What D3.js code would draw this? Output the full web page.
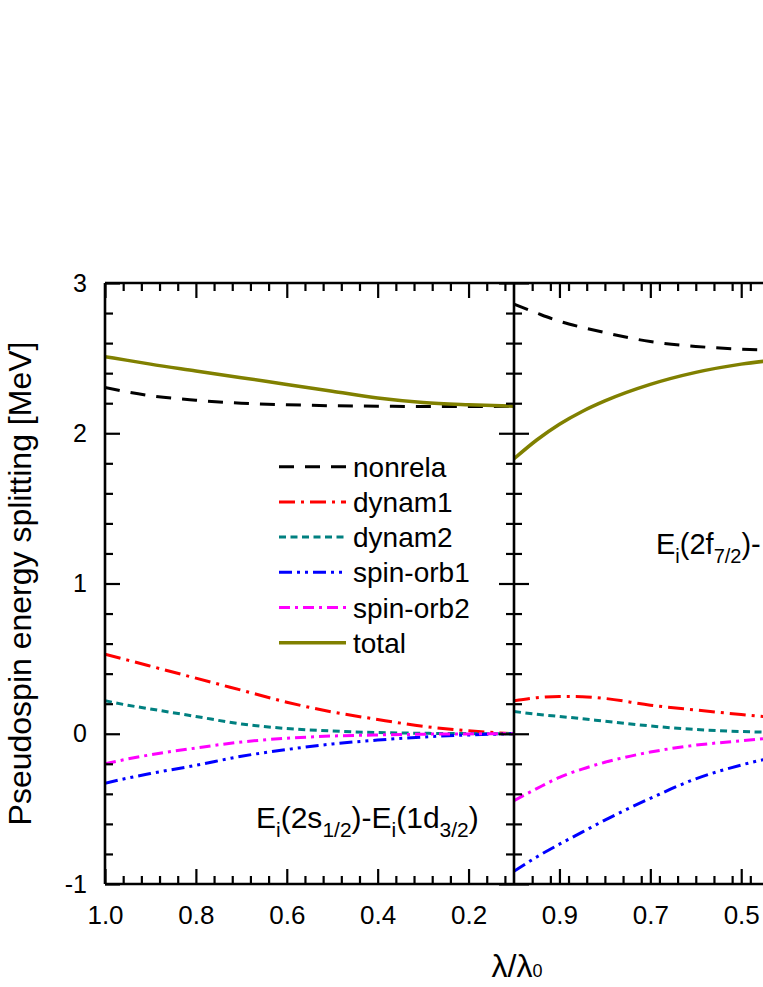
<!DOCTYPE html>
<html>
<head>
<meta charset="utf-8">
<script src="https://cdn.jsdelivr.net/npm/d3@7"></script>
<style>
  html, body { margin: 0; padding: 0; background: #fff; }
  svg { display: block; }
  text { font-family: "Liberation Sans", Arial, sans-serif; fill: #000; }
</style>
</head>
<body>
<script>
// ---------------- data ----------------
const lamLeft  = [1.0, 0.95, 0.9, 0.8, 0.7, 0.6, 0.5, 0.4, 0.3, 0.2, 0.1];
const nonrelaL = [2.305, 2.275, 2.25, 2.22, 2.20, 2.19, 2.183, 2.18, 2.178, 2.178, 2.18];
const dynam1L  = [0.53, 0.49, 0.45, 0.37, 0.29, 0.21, 0.145, 0.095, 0.05, 0.02, 0.0];
const dynam2L  = [0.22, 0.19, 0.165, 0.115, 0.065, 0.035, 0.018, 0.008, 0.003, 0.001, 0.0];
const spinorb1L= [-0.33, -0.295, -0.265, -0.21, -0.15, -0.105, -0.068, -0.042, -0.022, -0.008, 0.0];
const spinorb2L= [-0.2, -0.168, -0.14, -0.095, -0.055, -0.03, -0.015, -0.008, -0.003, -0.001, 0.0];
const totalL   = [2.51, 2.485, 2.46, 2.415, 2.37, 2.325, 2.28, 2.235, 2.205, 2.19, 2.18];

const lamRight = [1.0, 0.95, 0.9, 0.85, 0.8, 0.7, 0.6, 0.5, 0.4];
const nonrelaR = [2.86, 2.80, 2.745, 2.705, 2.67, 2.61, 2.578, 2.56, 2.55];
const dynam1R  = [0.22, 0.24, 0.248, 0.247, 0.235, 0.19, 0.158, 0.128, 0.1];
const dynam2R  = [0.148, 0.13, 0.115, 0.1, 0.083, 0.052, 0.028, 0.015, 0.007];
const spinorb1R= [-0.915, -0.82, -0.735, -0.655, -0.575, -0.43, -0.30, -0.208, -0.14];
const spinorb2R= [-0.445, -0.365, -0.29, -0.235, -0.19, -0.122, -0.076, -0.047, -0.02];
const totalR   = [1.83, 1.955, 2.06, 2.145, 2.215, 2.325, 2.405, 2.46, 2.495];

const seriesNames = ["nonrela", "dynam1", "dynam2", "spin-orb1", "spin-orb2", "total"];
const seriesColors = ["#000000", "#ff0000", "#008080", "#0000ff", "#ff00ff", "#808000"];
const seriesDash = ["15,11", "16,6,3,6", "7,4.5", "13,5,3,5,3,5", "11,5,3,5", null];

const xTicksLeft = [1.0, 0.8, 0.6, 0.4, 0.2];
const xTicksRight = [0.9, 0.7, 0.5];
const yTicks = [-1, 0, 1, 2, 3];

const leftSeries = [nonrelaL, dynam1L, dynam2L, spinorb1L, spinorb2L, totalL];
const rightSeries = [nonrelaR, dynam1R, dynam2R, spinorb1R, spinorb2R, totalR];

// ---------------- layout ----------------
const W = 763, H = 987;
const yTop = 283, yBot = 884;
const xL0 = 105, xDiv = 514, xR1 = 923;

const svg = d3.select("body").append("svg").attr("width", W).attr("height", H);

const y = d3.scaleLinear().domain([-1, 3]).range([yBot, yTop]);
const xL = d3.scaleLinear().domain([1.0, 0.1]).range([xL0, xDiv]);
const xR = d3.scaleLinear().domain([1.0, 0.1]).range([xDiv, xR1]);

const minorX = d3.range(0, 23).map(i => +(1.0 - i * 0.04).toFixed(2)).filter(v => v >= 0.1);
const minorY = d3.range(0, 21).map(i => +(-1 + i * 0.2).toFixed(1));

// clip paths
const defs = svg.append("defs");
defs.append("clipPath").attr("id", "clipL").append("rect")
  .attr("x", xL0).attr("y", yTop).attr("width", xDiv - xL0).attr("height", yBot - yTop);
defs.append("clipPath").attr("id", "clipR").append("rect")
  .attr("x", xDiv).attr("y", yTop).attr("width", W - xDiv).attr("height", yBot - yTop);

function drawSeries(xs, lams, arrs, clip) {
  const g = svg.append("g").attr("clip-path", `url(#${clip})`);
  arrs.forEach((arr, i) => {
    const pts = lams.map((l, j) => [l, arr[j]]);
    const line = d3.line().x(d => xs(d[0])).y(d => y(d[1])).curve(d3.curveMonotoneX);
    g.append("path").attr("d", line(pts))
      .attr("fill", "none")
      .attr("stroke", seriesColors[i])
      .attr("stroke-width", i === 5 ? 3.5 : 3)
      .attr("stroke-dasharray", seriesDash[i]);
  });
}
drawSeries(xL, lamLeft, leftSeries, "clipL");
drawSeries(xR, lamRight, rightSeries, "clipR");

// ---------------- axes ----------------
function styleAxis(g) {
  g.selectAll(".domain").remove();
  g.selectAll(".tick line").attr("stroke", "#000").attr("stroke-width", 2.2);
}
const fmtX = d3.format(".1f");

[[xL, xTicksLeft, 1.0], [xR, xTicksRight, 0.46]].forEach(([xs, ticks, lo]) => {
  const visMinor = minorX.filter(v => v >= lo - 1e-6 || xs === xL);
  const minors = visMinor.filter(v => !ticks.some(t => Math.abs(t - v) < 1e-6) && !(xs === xR && Math.abs(v - 1.0) < 1e-6));
  svg.append("g").attr("transform", `translate(0,${yBot})`)
    .call(d3.axisBottom(xs).tickValues(minors).tickSize(-8).tickFormat(""))
    .call(styleAxis);
  svg.append("g").attr("transform", `translate(0,${yBot})`)
    .call(d3.axisBottom(xs).tickValues(ticks).tickSize(-15).tickPadding(22).tickFormat(fmtX))
    .call(styleAxis)
    .selectAll("text").attr("font-size", 26).attr("font-family", "Liberation Sans, Arial, sans-serif");
  svg.append("g").attr("transform", `translate(0,${yTop})`)
    .call(d3.axisTop(xs).tickValues(minors).tickSize(-8).tickFormat(""))
    .call(styleAxis);
  svg.append("g").attr("transform", `translate(0,${yTop})`)
    .call(d3.axisTop(xs).tickValues(ticks).tickSize(-15).tickFormat(""))
    .call(styleAxis);
});

const minorYOnly = minorY.filter(v => !yTicks.includes(v));
svg.append("g").attr("transform", `translate(${xL0},0)`)
  .call(d3.axisLeft(y).tickValues(minorYOnly).tickSize(-8).tickFormat(""))
  .call(styleAxis);
svg.append("g").attr("transform", `translate(${xL0},0)`)
  .call(d3.axisLeft(y).tickValues(yTicks).tickSize(-15).tickPadding(18).tickFormat(d => String(d)))
  .call(styleAxis)
  .selectAll("text").attr("font-size", 25).attr("font-family", "Liberation Sans, Arial, sans-serif");
svg.append("g").attr("transform", `translate(${xDiv},0)`)
  .call(d3.axisRight(y).tickValues(minorYOnly).tickSize(-8).tickFormat(""))
  .call(styleAxis);
svg.append("g").attr("transform", `translate(${xDiv},0)`)
  .call(d3.axisRight(y).tickValues(yTicks).tickSize(-15).tickFormat(""))
  .call(styleAxis);
svg.append("g").attr("transform", `translate(${xDiv},0)`)
  .call(d3.axisLeft(y).tickValues(minorYOnly).tickSize(-8).tickFormat(""))
  .call(styleAxis);
svg.append("g").attr("transform", `translate(${xDiv},0)`)
  .call(d3.axisLeft(y).tickValues(yTicks).tickSize(-15).tickFormat(""))
  .call(styleAxis);

const frame = svg.append("g").attr("stroke", "#000").attr("stroke-width", 2.6).attr("fill", "none");
frame.append("line").attr("x1", xL0).attr("x2", W).attr("y1", yTop).attr("y2", yTop);
frame.append("line").attr("x1", xL0).attr("x2", W).attr("y1", yBot).attr("y2", yBot);
frame.append("line").attr("x1", xL0).attr("x2", xL0).attr("y1", yTop).attr("y2", yBot);
frame.append("line").attr("x1", xDiv).attr("x2", xDiv).attr("y1", yTop).attr("y2", yBot);

// ---------------- titles ----------------
svg.append("text")
  .attr("transform", `translate(31,${(yTop + yBot) / 2}) rotate(-90)`)
  .attr("text-anchor", "middle")
  .attr("font-size", 32)
  .text("Pseudospin energy splitting [MeV]");

const xt = svg.append("text")
  .attr("x", 517).attr("y", 977)
  .attr("text-anchor", "middle")
  .attr("font-family", "Liberation Serif, Times New Roman, serif")
  .attr("font-size", 32);
xt.append("tspan").text("λ/λ");
xt.append("tspan").attr("font-size", 18).text("0");

// ---------------- legend ----------------
const legY0 = 466.7, legDy = 35.2;
const leg = svg.append("g");
seriesNames.forEach((name, i) => {
  const yy = legY0 + i * legDy;
  leg.append("line").attr("x1", 279).attr("x2", 346).attr("y1", yy).attr("y2", yy)
    .attr("stroke", seriesColors[i]).attr("stroke-width", i === 5 ? 3.5 : 3)
    .attr("stroke-dasharray", seriesDash[i]);
  leg.append("text").attr("x", 353).attr("y", yy + 10).attr("font-size", 28).text(name);
});

// ---------------- annotations ----------------
function annot(x, yb, parts, fs, ss, sh) {
  const t = svg.append("text").attr("x", x).attr("y", yb).attr("font-size", fs);
  let shifted = false;
  parts.forEach(p => {
    if (p.s !== undefined) {
      t.append("tspan").attr("font-size", ss).attr("dy", sh).text(p.s);
      shifted = true;
    } else {
      t.append("tspan").attr("dy", shifted ? -sh : 0).text(p.t);
      shifted = false;
    }
  });
}
annot(256, 828, [{t: "E"}, {s: "i"}, {t: "(2s"}, {s: "1/2"}, {t: ")-E"}, {s: "i"}, {t: "(1d"}, {s: "3/2"}, {t: ")"}], 30, 21, 9);
annot(656, 554, [{t: "E"}, {s: "i"}, {t: "(2f"}, {s: "7/2"}, {t: ")-"}], 29, 20, 8.5);
</script>
</body>
</html>
